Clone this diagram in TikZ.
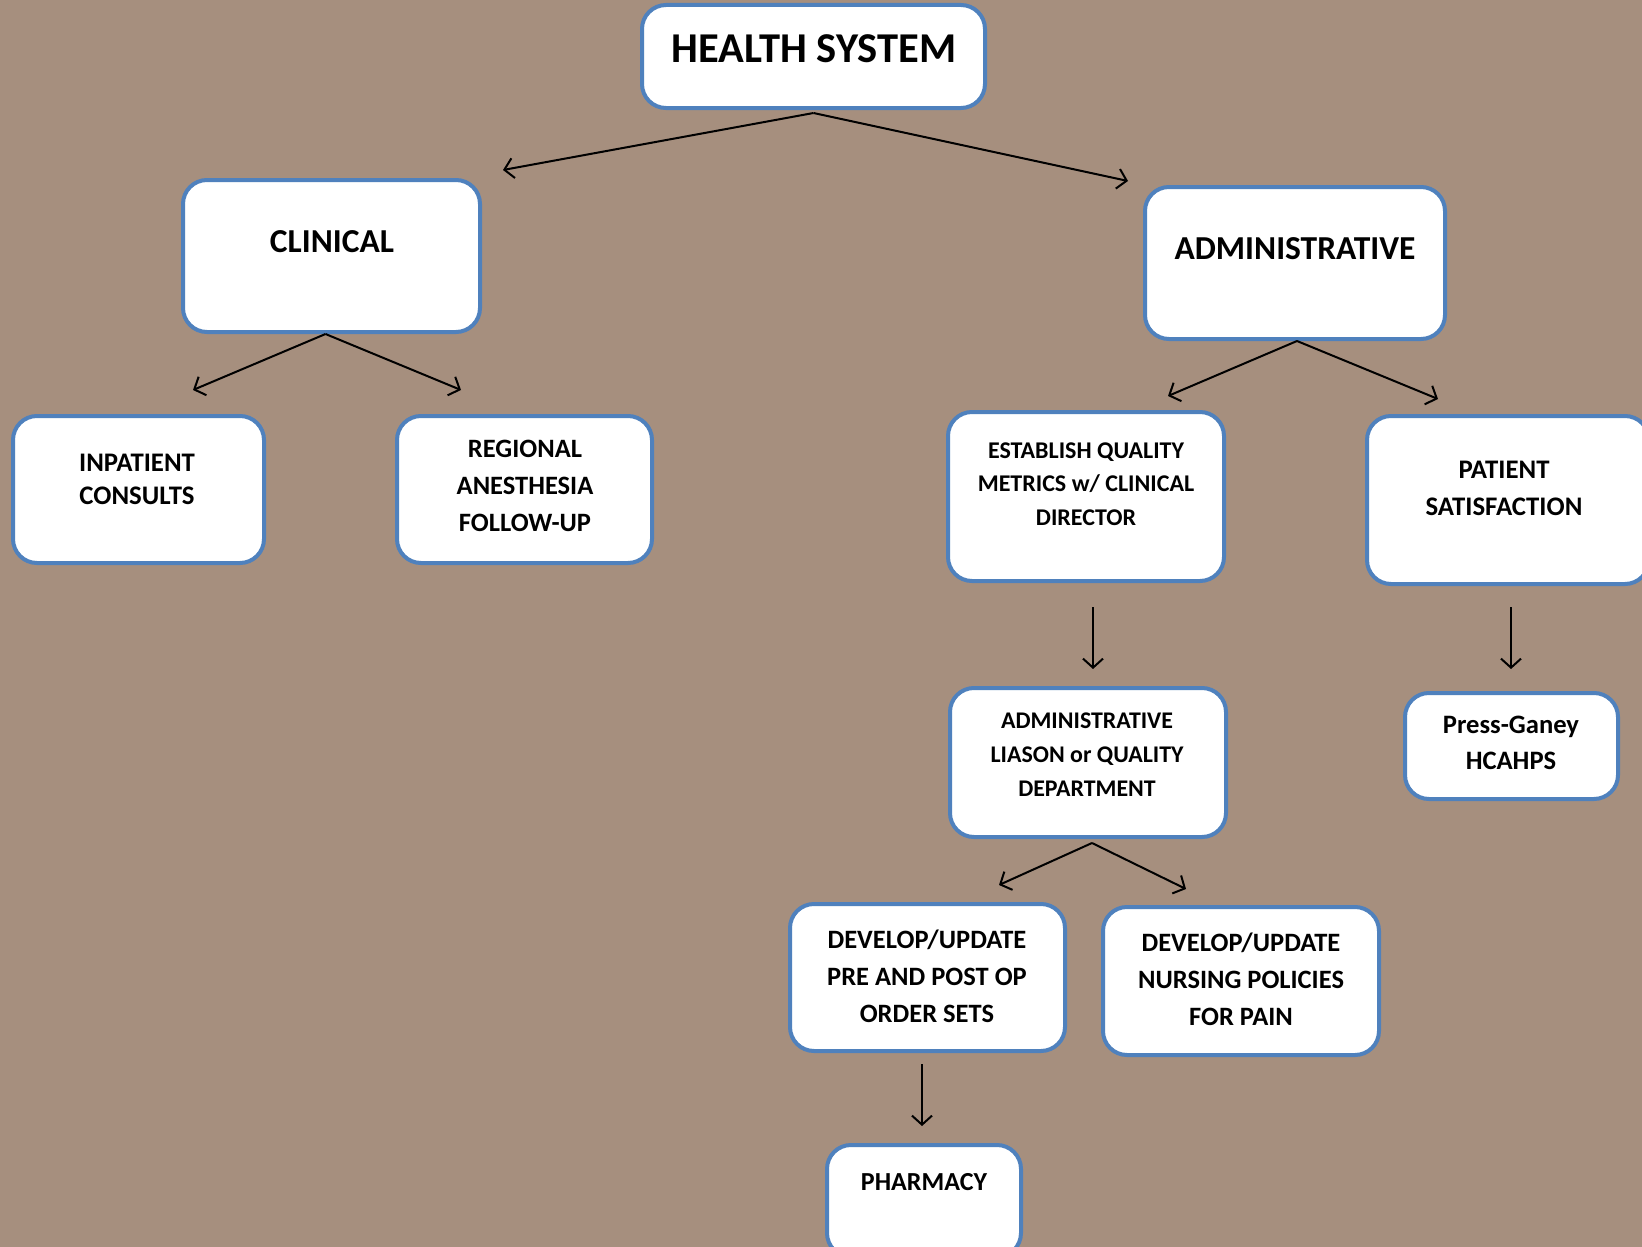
\documentclass[tikz,border=0pt]{standalone}
\usepackage{fontspec}
\setmainfont{Carlito}
\usetikzlibrary{arrows.meta}
\definecolor{bgtan}{HTML}{A68F7E}
\definecolor{boxblue}{HTML}{4F81BD}
\tikzset{
  box/.style={draw=boxblue, line width=4pt, rounded corners=24pt, fill=white, inner sep=0pt},
  lbl/.style={align=center, inner sep=0pt, font=\bfseries},
  arr/.style={line width=2pt, -{Straight Barb[length=9pt,width=20pt,line width=2pt]}}
}
\begin{document}
\begin{tikzpicture}[x=1pt,y=-1pt]
\fill[bgtan] (0,0) rectangle (1642,1247);
\useasboundingbox (0,0) rectangle (1642,1247);

% boxes
\node[box, minimum width=343pt, minimum height=103pt] (hs) at (813.5,56.5) {};
\node[box, minimum width=297pt, minimum height=152pt] (clin) at (331.5,256) {};
\node[box, minimum width=300pt, minimum height=152pt] (adm) at (1295,263) {};
\node[box, minimum width=251pt, minimum height=147pt] (inp) at (138.5,489.5) {};
\node[box, minimum width=255pt, minimum height=147pt] (reg) at (524.5,489.5) {};
\node[box, minimum width=276pt, minimum height=169pt] (est) at (1086,496.5) {};
\node[box, minimum width=282pt, minimum height=168pt] (pat) at (1508,500) {};
\node[box, minimum width=276pt, minimum height=149pt] (lia) at (1088,762.5) {};
\node[box, minimum width=213pt, minimum height=106pt] (pg) at (1511.5,746) {};
\node[box, minimum width=275pt, minimum height=147pt] (dev1) at (927.5,977.5) {};
\node[box, minimum width=276pt, minimum height=148pt] (dev2) at (1241,981) {};
\node[box, minimum width=194pt, minimum height=112pt] (ph) at (924,1201) {};

% labels
\node[lbl, font=\bfseries\fontsize{42.5}{50}\selectfont] (hst) at (814,49) {HEALTH SYSTEM};
\node[lbl, font=\bfseries\fontsize{33.5}{40}\selectfont] (clint) at (332,242) {CLINICAL};
\node[lbl, font=\bfseries\fontsize{33.5}{40}\selectfont] (admt) at (1295,249) {ADMINISTRATIVE};
\node[lbl, font=\bfseries\fontsize{26.8}{33}\selectfont] (inpt) at (137,479) {INPATIENT\\CONSULTS};
\node[lbl, font=\bfseries\fontsize{26.5}{37}\selectfont] (regt) at (525,486) {REGIONAL\\ANESTHESIA\\FOLLOW-UP};
\node[lbl, font=\bfseries\fontsize{24}{33.5}\selectfont] (estt) at (1086,484) {ESTABLISH QUALITY\\METRICS w/ CLINICAL\\DIRECTOR};
\node[lbl, font=\bfseries\fontsize{26.8}{37}\selectfont] (patt) at (1504,488) {PATIENT\\SATISFACTION};
\node[lbl, font=\bfseries\fontsize{23.9}{34}\selectfont] (liat) at (1087,755) {ADMINISTRATIVE\\LIASON or QUALITY\\DEPARTMENT};
\node[lbl, font=\bfseries\fontsize{26.6}{36}\selectfont] (pgt) at (1511,743) {Press-Ganey\\HCAHPS};
\node[lbl, font=\bfseries\fontsize{26.5}{37}\selectfont] (dev1t) at (927,976) {DEVELOP/UPDATE\\PRE AND POST OP\\ORDER SETS};
\node[lbl, font=\bfseries\fontsize{26.5}{37}\selectfont] (dev2t) at (1241,979) {DEVELOP/UPDATE\\NURSING POLICIES\\FOR PAIN};
\node[lbl, font=\bfseries\fontsize{26}{30}\selectfont] (pht) at (924,1182) {PHARMACY};

% arrow ends
\coordinate (hsL) at (503,170);
\coordinate (hsR) at (1128,181);
\coordinate (clL) at (193,390);
\coordinate (clR) at (461,390);
\coordinate (adL) at (1168,396);
\coordinate (adR) at (1438,399);
\coordinate (estS) at (1093,607);
\coordinate (estE) at (1093,669);
\coordinate (patS) at (1511,607);
\coordinate (patE) at (1511,669);
\coordinate (liL) at (999,885);
\coordinate (liR) at (1186,889);
\coordinate (devS) at (922,1064);
\coordinate (devE) at (922,1126);

% connectors
\draw[arr] ([yshift=-3pt]hs.south) -- (hsL);
\draw[arr] ([yshift=-3pt]hs.south) -- (hsR);
\draw[arr] ([xshift=-6pt]clin.south) -- (clL);
\draw[arr] ([xshift=-6pt]clin.south) -- (clR);
\draw[arr] ([xshift=2pt]adm.south) -- (adL);
\draw[arr] ([xshift=2pt]adm.south) -- (adR);
\draw[arr] (estS) -- (estE);
\draw[arr] (patS) -- (patE);
\draw[arr] ([xshift=4pt,yshift=-4pt]lia.south) -- (liL);
\draw[arr] ([xshift=4pt,yshift=-4pt]lia.south) -- (liR);
\draw[arr] (devS) -- (devE);
\end{tikzpicture}
\end{document}
